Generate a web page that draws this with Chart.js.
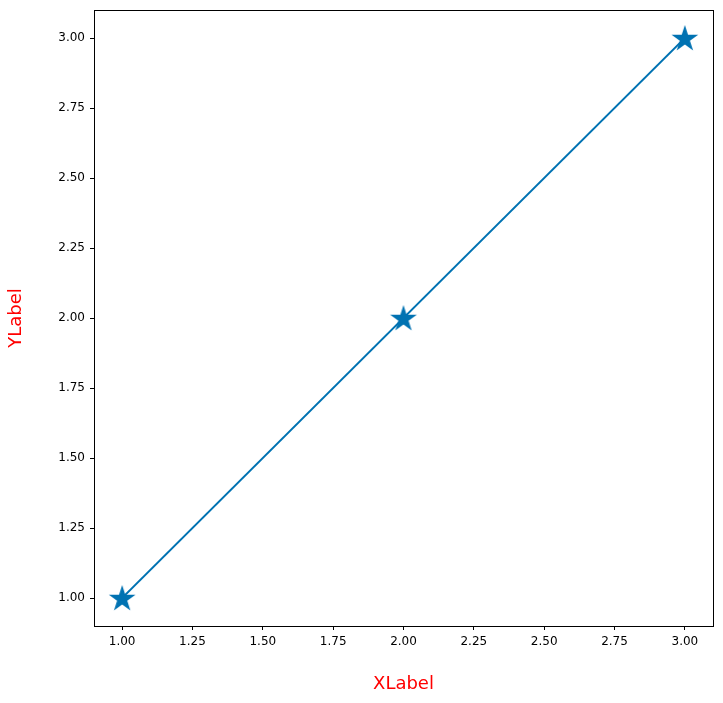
<!DOCTYPE html>
<html>
<head>
<meta charset="utf-8">
<script src="https://cdn.jsdelivr.net/npm/chart.js@4/dist/chart.umd.min.js"></script>
<style>
html,body{margin:0;padding:0;background:#fff;}
#wrap{width:723px;height:703px;}
</style>
</head>
<body>
<div id="wrap"><canvas id="c" width="723" height="703"></canvas></div>
<script>
const xValues = [1, 2, 3];
const yValues = [1, 2, 3];
const xTicks = [1.00, 1.25, 1.50, 1.75, 2.00, 2.25, 2.50, 2.75, 3.00];
const yTicks = [1.00, 1.25, 1.50, 1.75, 2.00, 2.25, 2.50, 2.75, 3.00];
const xTitle = 'XLabel';
const yTitle = 'YLabel';

const lineColor = '#0072b2';
const FONT = "'DejaVu Sans', sans-serif";

function makeStar(R, color) {
  const size = Math.ceil(R * 2 + 2);
  const cv = document.createElement('canvas');
  cv.width = size; cv.height = size;
  const ctx = cv.getContext('2d');
  const cx = size / 2, cy = size / 2 + R * 0.08;
  const r = R * 0.382;
  ctx.beginPath();
  for (let i = 0; i < 10; i++) {
    const rad = i % 2 === 0 ? R : r;
    const a = -Math.PI / 2 + i * Math.PI / 5;
    const px = cx + rad * Math.cos(a), py = cy + rad * Math.sin(a);
    if (i === 0) ctx.moveTo(px, py); else ctx.lineTo(px, py);
  }
  ctx.closePath();
  ctx.fillStyle = color;
  ctx.fill();
  return cv;
}
const starImg = makeStar(14, lineColor);

const frame = {
  id: 'frame',
  afterDatasetsDraw(chart) {
    const {ctx, chartArea: a} = chart;
    ctx.save();
    ctx.strokeStyle = '#000';
    ctx.lineWidth = 1;
    ctx.strokeRect(Math.round(a.left) + 0.5, Math.round(a.top) + 0.5, Math.round(a.right - a.left), Math.round(a.bottom - a.top));
    ctx.restore();
  }
};

const data = {
  datasets: [{
    data: xValues.map((x, i) => ({x: x, y: yValues[i]})),
    showLine: true,
    borderColor: lineColor,
    borderWidth: 1.8,
    backgroundColor: lineColor,
    pointStyle: starImg,
    pointRadius: 14,
    pointHoverRadius: 14
  }]
};

function axis(ticksArr, title, isX) {
  return {
    type: 'linear',
    min: 0.9,
    max: 3.1,
    afterBuildTicks(scale) { scale.ticks = ticksArr.map(v => ({value: v})); },
    afterFit(scale) {
      if (isX) { scale.height = 77; scale.paddingLeft = 0; scale.paddingRight = 0; }
      else { scale.width = 94; scale.paddingTop = 0; scale.paddingBottom = 0; }
    },
    grid: {display: true, drawOnChartArea: false, drawTicks: true, tickLength: 4, color: '#000', lineWidth: 1},
    border: {display: true, color: '#000', width: 1},
    ticks: {
      color: '#000',
      font: {family: FONT, size: 12},
      padding: 5,
      autoSkip: false,
      maxRotation: 0,
      callback: v => Number(v).toFixed(2)
    },
    title: {
      display: true,
      text: title,
      color: '#ff0000',
      font: {family: FONT, size: 18},
      padding: isX ? {top: 0, bottom: 8} : {top: 6, bottom: 0}
    }
  };
}

new Chart(document.getElementById('c'), {
  type: 'scatter',
  data: data,
  options: {
    responsive: false,
    animation: false,
    devicePixelRatio: 1,
    layout: {autoPadding: false, padding: {left: 0, right: 10, top: 10, bottom: 0}},
    plugins: {legend: {display: false}, tooltip: {enabled: false}},
    scales: {
      x: axis(xTicks, xTitle, true),
      y: axis(yTicks, yTitle, false)
    }
  },
  plugins: [frame]
});
</script>
</body>
</html>
